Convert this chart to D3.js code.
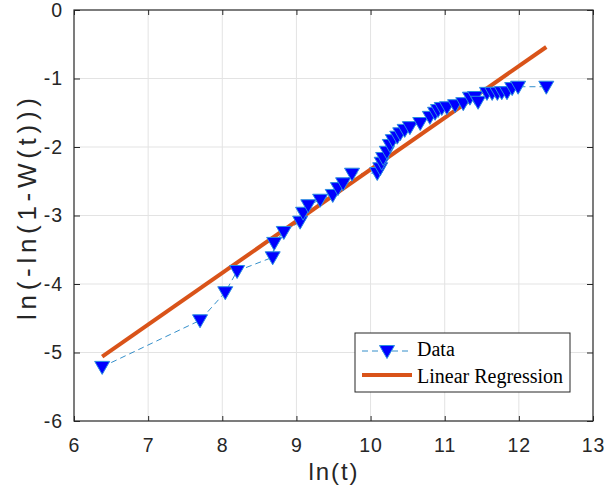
<!DOCTYPE html>
<html>
<head>
<meta charset="utf-8">
<script src="https://cdn.jsdelivr.net/npm/d3@7"></script>
<style>
  body { margin: 0; background: #fff; }
  svg { display: block; }
</style>
</head>
<body>
<svg id="chart" width="613" height="488"></svg>
<script>
// ln(t) values of the data points
const lnT = [6.38, 7.70, 8.04, 8.20, 8.68, 8.70, 8.83, 9.05, 9.09, 9.16, 9.32, 9.49, 9.56, 9.63, 9.75,
  10.09, 10.13, 10.15, 10.17, 10.22, 10.26, 10.30, 10.36, 10.40, 10.46, 10.53, 10.67, 10.80, 10.87, 10.91,
  10.96, 11.03, 11.14, 11.25, 11.34, 11.41, 11.45, 11.57, 11.64, 11.71, 11.77, 11.84, 11.91, 11.99, 12.37];
// ln(-ln(1-W(t))) values
const lnW = [-5.21, -4.53, -4.12, -3.81, -3.61, -3.40, -3.24, -3.09, -2.96, -2.85, -2.77, -2.70, -2.60, -2.53, -2.39,
  -2.38, -2.31, -2.23, -2.16, -2.07, -1.97, -1.90, -1.85, -1.80, -1.75, -1.71, -1.65, -1.56, -1.50, -1.46,
  -1.43, -1.42, -1.39, -1.36, -1.28, -1.27, -1.34, -1.21, -1.21, -1.21, -1.20, -1.20, -1.14, -1.12, -1.12];
// linear regression end points
const fitX = [6.38, 12.37];
const fitY = [-5.06, -0.54];

const xTicks = [6, 7, 8, 9, 10, 11, 12, 13];
const yTicks = [0, -1, -2, -3, -4, -5, -6];

const svg = d3.select("#chart");
const margin = { top: 10, right: 20, bottom: 67, left: 74 },
  width = 613 - margin.left - margin.right,
  height = 488 - margin.top - margin.bottom;

const x = d3.scaleLinear().domain([6, 13]).range([0, width]);
const y = d3.scaleLinear().domain([-6, 0]).range([height, 0]);

const g = svg.append("g").attr("transform", `translate(${margin.left},${margin.top})`);
const sans = "Liberation Sans, Arial, sans-serif";

// grid
g.append("g").selectAll("line").data(xTicks.slice(1, -1)).join("line")
  .attr("x1", d => x(d)).attr("x2", d => x(d)).attr("y1", 0).attr("y2", height)
  .attr("stroke", "#e3e3e3").attr("stroke-width", 1);
g.append("g").selectAll("line").data(yTicks.slice(1, -1)).join("line")
  .attr("y1", d => y(d)).attr("y2", d => y(d)).attr("x1", 0).attr("x2", width)
  .attr("stroke", "#e3e3e3").attr("stroke-width", 1);

// axes (ticks inside, box)
const axColor = "#262626";
const styleAxis = sel => {
  sel.select(".domain").remove();
  sel.selectAll("line").attr("stroke", axColor);
  sel.selectAll("text").attr("fill", axColor)
    .style("font-family", sans).style("font-size", "19.5px").style("letter-spacing", "1px");
};
const fmt = d => String(d); // plain hyphen minus like the original
g.append("g").attr("transform", `translate(0,${height})`)
  .call(d3.axisBottom(x).tickValues(xTicks).tickSize(-5).tickPadding(17).tickFormat(fmt))
  .call(styleAxis);
g.append("g")
  .call(d3.axisTop(x).tickValues(xTicks).tickSize(-5).tickFormat(""))
  .call(styleAxis);
g.append("g")
  .call(d3.axisLeft(y).tickValues(yTicks).tickSize(-6).tickPadding(11).tickFormat(fmt))
  .call(styleAxis);
g.append("g").attr("transform", `translate(${width},0)`)
  .call(d3.axisRight(y).tickValues(yTicks).tickSize(-6).tickFormat(""))
  .call(styleAxis);
g.append("rect").attr("width", width).attr("height", height)
  .attr("fill", "none").attr("stroke", axColor).attr("stroke-width", 1.2);

// data line
const pts = lnT.map((t, i) => ({ x: t, y: lnW[i] }));
const line = d3.line().x(d => x(d.x)).y(d => y(d.y));
g.append("path").datum(pts).attr("d", line)
  .attr("fill", "none").attr("stroke", "#0072BD").attr("stroke-width", 0.8)
  .attr("stroke-dasharray", "6,4");

// regression line
g.append("path").datum(fitX.map((t, i) => ({ x: t, y: fitY[i] }))).attr("d", line)
  .attr("fill", "none").attr("stroke", "#D95319").attr("stroke-width", 4);

// markers (downward triangles)
const tri = "M-7.5,-5.5L7.5,-5.5L0,7.5Z";
g.append("g").selectAll("path").data(pts).join("path")
  .attr("d", tri)
  .attr("transform", d => `translate(${x(d.x)},${y(d.y)})`)
  .attr("fill", "#0000ff").attr("stroke", "#2a8ee0").attr("stroke-width", 1);

// axis labels
svg.append("text").attr("x", 333).attr("y", 480)
  .attr("text-anchor", "middle").attr("fill", axColor)
  .attr("textLength", 49).attr("lengthAdjust", "spacing")
  .style("font-family", sans).style("font-size", "24px")
  .text("ln(t)");
svg.append("text").attr("transform", "translate(36,209) rotate(-90)")
  .attr("text-anchor", "middle").attr("fill", axColor)
  .attr("textLength", 222).attr("lengthAdjust", "spacing")
  .style("font-family", sans).style("font-size", "26px")
  .text("ln(-ln(1-W(t)))");

// legend
const lg = svg.append("g").attr("transform", "translate(355,333)");
lg.append("rect").attr("width", 215).attr("height", 59)
  .attr("fill", "#fff").attr("stroke", axColor).attr("stroke-width", 1);
lg.append("line").attr("x1", 7).attr("x2", 57).attr("y1", 18).attr("y2", 18)
  .attr("stroke", "#0072BD").attr("stroke-width", 0.8).attr("stroke-dasharray", "6,4");
lg.append("path").attr("d", tri).attr("transform", "translate(32,18)")
  .attr("fill", "#0000ff").attr("stroke", "#2a8ee0").attr("stroke-width", 1);
lg.append("line").attr("x1", 7).attr("x2", 57).attr("y1", 42).attr("y2", 42)
  .attr("stroke", "#D95319").attr("stroke-width", 4);
const legText = ["Data", "Linear Regression"];
lg.selectAll("text.leg").data(legText).join("text").attr("class", "leg")
  .attr("x", 62).attr("y", (d, i) => 23 + i * 27)
  .style("font-family", "Liberation Serif, Times New Roman, serif").style("font-size", "20px")
  .attr("fill", "#000").text(d => d);
</script>
</body>
</html>
